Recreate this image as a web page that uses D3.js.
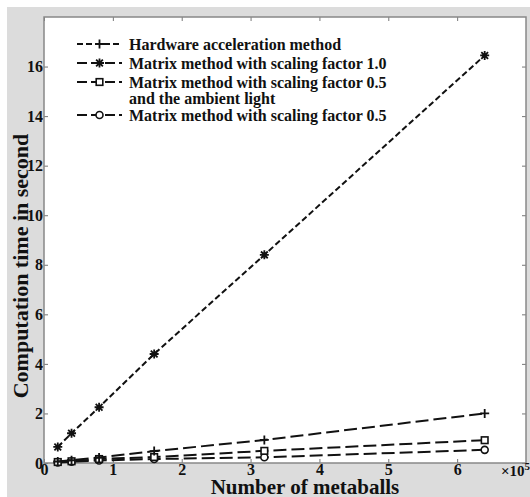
<!DOCTYPE html>
<html>
<head>
<meta charset="utf-8">
<script src="https://cdn.jsdelivr.net/npm/d3@7"></script>
<style>
  body { margin: 0; background: #fff; }
  text { font-family: "Liberation Serif", "DejaVu Serif", serif; font-weight: bold; fill: #111; }
</style>
</head>
<body>
<div id="chart"></div>
<script>
// x values in units of 10^5 metaballs
var metaballs = [0.2, 0.4, 0.8, 1.6, 3.2, 6.4];
var hardware = [0.65, 1.2, 2.25, 4.4, 8.4, 16.45];
var matrix10 = [0.06, 0.11, 0.22, 0.48, 0.93, 2.0];
var matrix05amb = [0.04, 0.07, 0.16, 0.24, 0.49, 0.92];
var matrix05 = [0.02, 0.05, 0.1, 0.16, 0.23, 0.53];
var legendLabels = [
  ["Hardware acceleration method"],
  ["Matrix method with scaling factor 1.0"],
  ["Matrix method with scaling factor 0.5", "and the ambient light"],
  ["Matrix method with scaling factor 0.5"]
];
var xTicks = [0, 1, 2, 3, 4, 5, 6];
var yTicks = [0, 2, 4, 6, 8, 10, 12, 14, 16];

var W = 530, H = 497;
var margin = {top: 17, right: 4, bottom: 34, left: 44},
    width = W - margin.left - margin.right,
    height = H - margin.top - margin.bottom;

var svg = d3.select("#chart").append("svg")
    .attr("width", W).attr("height", H);

// grey figure background
svg.append("rect").attr("x", 7).attr("y", 7)
    .attr("width", W - 7).attr("height", H - 7).attr("fill", "#dcdcdc");

var g = svg.append("g")
    .attr("transform", "translate(" + margin.left + "," + margin.top + ")");

var x = d3.scaleLinear().domain([0, 7]).range([0, width]);
var y = d3.scaleLinear().domain([0, 18]).range([height, 0]);

g.append("rect").attr("width", width).attr("height", height)
    .attr("fill", "#fff");

// ticks on all four sides, pointing in
function ticks(sel) {
  sel.attr("font-size", 16);
  sel.selectAll(".domain").remove();
  sel.selectAll("line").attr("stroke", "#777").attr("stroke-width", 1);
  sel.selectAll("text").style("font-size", "16px");
}
g.append("g").attr("transform", "translate(0," + height + ")")
  .call(d3.axisBottom(x).tickValues(xTicks).tickFormat(d3.format("d"))
        .tickSizeInner(-4).tickSizeOuter(0).tickPadding(1))
  .call(ticks);
g.append("g")
  .call(d3.axisTop(x).tickValues(xTicks).tickSizeInner(-4).tickSizeOuter(0).tickFormat(""))
  .call(ticks);
g.append("g")
  .call(d3.axisLeft(y).tickValues(yTicks).tickFormat(d3.format("d"))
        .tickSizeInner(-4).tickSizeOuter(0).tickPadding(1))
  .call(ticks);
g.append("g").attr("transform", "translate(" + width + ",0)")
  .call(d3.axisRight(y).tickValues(yTicks).tickSizeInner(-4).tickSizeOuter(0).tickFormat(""))
  .call(ticks);

g.append("rect").attr("width", width).attr("height", height)
    .attr("fill", "none").attr("stroke", "#888").attr("stroke-width", 1.5);

var series = [
  {vals: hardware, dash: "6,3", marker: "star"},
  {vals: matrix10, dash: "13,5", marker: "plus"},
  {vals: matrix05amb, dash: "13,5", marker: "square"},
  {vals: matrix05, dash: "13,5", marker: "circle"}
];

var line = d3.line()
    .x(function(d, i) { return x(metaballs[i]); })
    .y(function(d) { return y(d); });

function drawMarker(sel, type, cx, cy) {
  if (type === "circle") {
    sel.append("circle").attr("cx", cx).attr("cy", cy).attr("r", 3.5)
      .attr("fill", "#fff").attr("stroke", "#111").attr("stroke-width", 1.6);
  } else if (type === "square") {
    sel.append("rect").attr("x", cx - 3.3).attr("y", cy - 3.3)
      .attr("width", 6.6).attr("height", 6.6)
      .attr("fill", "#fff").attr("stroke", "#111").attr("stroke-width", 1.6);
  } else {
    var s = 4.5, p = "M" + (cx - s) + "," + cy + "H" + (cx + s) +
        "M" + cx + "," + (cy - s) + "V" + (cy + s);
    if (type === "star") {
      var d = s * 0.75;
      p += "M" + (cx - d) + "," + (cy - d) + "L" + (cx + d) + "," + (cy + d) +
           "M" + (cx - d) + "," + (cy + d) + "L" + (cx + d) + "," + (cy - d);
    }
    sel.append("path").attr("d", p).attr("stroke", "#111").attr("stroke-width", 1.8);
  }
}

series.slice().reverse().forEach(function(s) {
  g.append("path").datum(s.vals)
    .attr("fill", "none").attr("stroke", "#111")
    .attr("stroke-width", 2).attr("stroke-dasharray", s.dash)
    .attr("d", line);
  s.vals.forEach(function(v, i) {
    drawMarker(g, s.marker, x(metaballs[i]), y(v));
  });
});

// legend
var legendMarkers = ["plus", "star", "square", "circle"];
var legRows = [44, 63, 82, 115];
legendLabels.forEach(function(lbl, i) {
  var ly = legRows[i];
  svg.append("line").attr("x1", 77).attr("x2", 122).attr("y1", ly).attr("y2", ly)
    .attr("stroke", "#111").attr("stroke-width", 2)
    .attr("stroke-dasharray", i === 0 ? "6,3" : "10,4");
  drawMarker(svg, legendMarkers[i], 99.5, ly);
  lbl.forEach(function(t, j) {
    svg.append("text").attr("x", 129).attr("y", ly + j * 16)
      .attr("dy", "0.35em").style("font-size", "16px").text(t);
  });
});

// axis titles
svg.append("text").attr("text-anchor", "middle")
  .attr("transform", "translate(28,266) rotate(-90)")
  .style("font-size", "22px").text("Computation time in second");
svg.append("text").attr("text-anchor", "middle")
  .attr("x", 305).attr("y", 494)
  .style("font-size", "21px").text("Number of metaballs");
var ex = svg.append("text").attr("x", 501).attr("y", 476).style("font-size", "15px");
ex.append("tspan").text("\u00d710");
ex.append("tspan").attr("dy", -6).style("font-size", "11px").text("5");
</script>
</body>
</html>
